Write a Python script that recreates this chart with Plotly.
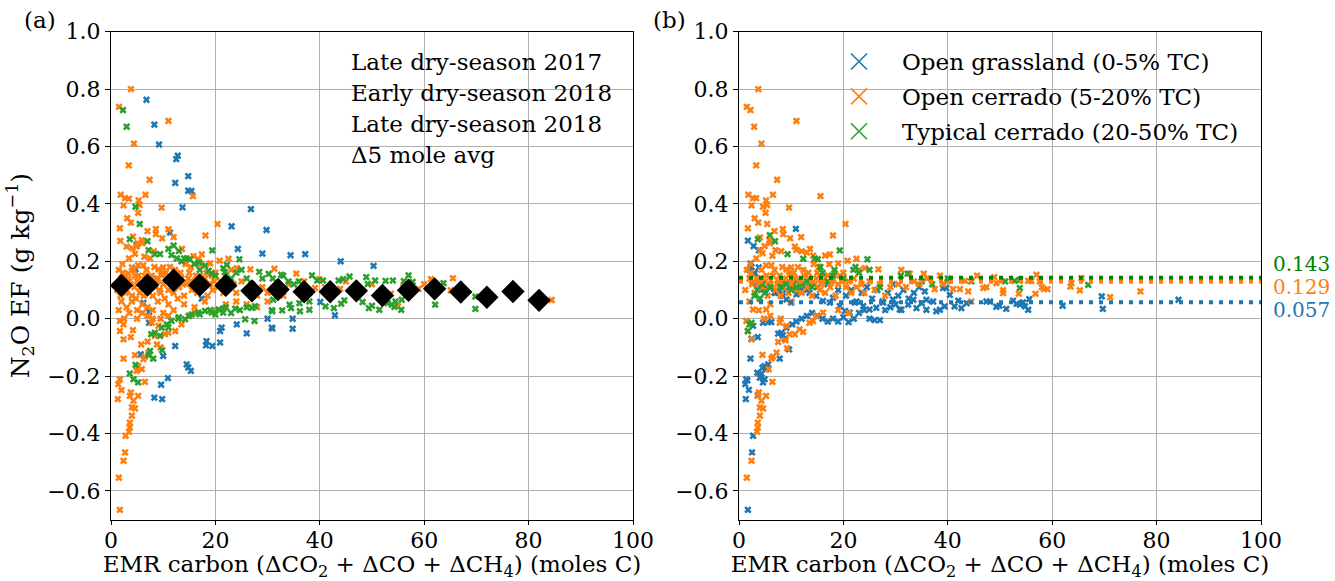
import plotly.graph_objects as go

# ---------------- DATA ----------------
# Panel (a): coloured by campaign
a_late2017 = [
    (6.8,0.763),(8.3,0.676),(9.2,0.607),(12.8,0.568),(12.5,0.556),(14.8,0.497),(12.3,0.473),
    (14.8,0.446),(15.4,0.445),(13.7,0.388),(26.8,0.382),(23.1,0.322),(11.3,0.30),(29.8,0.309),
    (4.9,0.257),(24.3,0.243),(29.0,0.227),(4.7,0.172),(34.4,0.221),(37.2,0.225),(44.0,0.20),
    (50.3,0.184),(8.75,0.139),(6.2,0.055),(7.3,0.023),(17.4,0.07),(40.1,0.058),(42.9,0.012),
    (34.8,0.0),(30.0,0.0),(7.3,-0.014),(34.8,-0.035),(30.9,-0.034),(30.8,-0.031),(20.9,-0.043),
    (21.2,-0.031),(24.1,-0.02),(26.0,-0.051),(18.3,-0.078),(18.2,-0.093),(19.4,-0.095),
    (20.9,-0.083),(5.7,-0.124),(10.0,-0.13),(12.3,-0.095),(10.9,-0.207),(9.6,-0.23),(8.3,-0.275),
    (9.8,-0.28),(14.5,-0.159),(14.8,-0.17),(15.3,-0.182),
]
a_early2018 = [
    (3.83,0.80),(1.53,0.738),(11.0,0.689),(4.4,0.61),(3.4,0.534),(7.4,0.484),(15.7,0.427),
    (1.85,0.432),(2.7,0.42),(3.45,0.418),(5.3,0.412),(5.5,0.396),(6.6,0.432),(2.4,0.395),
    (5.2,0.369),(9.7,0.387),(3.1,0.35),(3.8,0.335),(1.7,0.315),(20.4,0.33),(7.0,0.305),
    (8.6,0.312),(8.6,0.295),(11.0,0.311),(12.0,0.284),(18.1,0.29),(1.8,0.271),(4.2,0.286),
    (5.9,0.274),(6.0,0.263),(5.1,0.263),(9.8,0.28),(3.0,0.251),(4.1,0.245),(4.9,0.251),
    (8.2,0.235),(13.6,0.243),(17.4,0.224),(22.5,0.209),(20.8,0.202),(3.45,0.21),(4.6,0.226),
    (6.4,0.216),(7.5,0.21),(15.8,0.218),(16.7,0.207),(19.0,0.193),(2.2,0.19),(4.0,0.179),
    (5.2,0.186),(6.2,0.186),(9.1,0.172),(10.0,0.179),(9.6,0.152),(26.7,0.172),(24.1,0.176),
    (3.3,0.158),(4.6,0.15),
    (1.5,0.17),(2.0,0.14),(2.5,0.12),(3.0,0.10),(3.5,0.13),(4.0,0.08),(4.5,0.11),(5.0,0.13),
    (5.5,0.09),(6.0,0.12),(6.5,0.15),(7.0,0.10),(7.5,0.13),(8.0,0.08),(8.5,0.11),(9.0,0.14),
    (9.5,0.09),(10.0,0.12),(10.5,0.16),(11.0,0.10),(11.5,0.13),(12.0,0.09),(12.5,0.15),
    (13.0,0.11),(13.5,0.14),(14.0,0.08),(14.5,0.12),(15.0,0.16),(15.5,0.10),(16.0,0.13),
    (16.5,0.09),(17.0,0.15),(17.5,0.11),(18.0,0.14),(18.5,0.08),(19.0,0.12),(19.5,0.10),
    (20.0,0.16),(20.5,0.11),(21.0,0.13),(21.5,0.09),(22.0,0.14),(22.5,0.11),(23.0,0.17),
    (23.5,0.12),(24.0,0.09),(25.0,0.13),(26.0,0.10),(27.0,0.12),(28.0,0.08),(29.0,0.11),
    (30.0,0.09),(31.3,0.174),(35.5,0.157),(39.9,0.138),(39.1,0.107),(43.9,0.104),(53.6,0.087),
    (55.0,0.043),(58.9,0.104),(61.3,0.138),(65.5,0.141),(65.1,0.099),(84.4,0.065),
    (2.0,0.06),(3.0,0.04),(4.0,0.06),(5.0,0.03),(6.0,0.05),(7.0,0.04),(8.0,0.03),(9.0,0.06),
    (10.0,0.02),(11.0,0.05),(12.0,0.03),(14.0,0.05),(16.0,0.04),(18.0,0.06),(20.0,0.03),
    (22.0,0.05),(24.0,0.06),(26.0,0.05),(28.0,0.04),(30.0,0.06),(32.0,0.10),(33.0,0.08),
    (34.0,0.12),(36.0,0.10),(37.0,0.13),(38.0,0.09),(41.0,0.11),(45.0,0.13),(47.0,0.10),
    (50.0,0.12),(52.0,0.10),(56.0,0.11),(60.0,0.12),
    (1.2,0.10),(1.8,0.08),(2.3,0.16),(2.8,0.09),(3.3,0.14),(3.8,0.12),(4.3,0.17),(4.8,0.07),
    (5.3,0.15),(5.8,0.11),(6.3,0.08),(6.8,0.17),(7.3,0.12),(7.8,0.15),(8.3,0.18),(8.8,0.13),
    (9.3,0.10),(9.8,0.16),(10.3,0.07),(10.8,0.14),(11.3,0.18),(11.8,0.12),(12.3,0.17),
    (12.8,0.07),(13.3,0.16),(13.8,0.12),(14.3,0.19),(14.8,0.14),(15.3,0.18),(15.8,0.12),
    (16.3,0.15),(16.8,0.11),(17.3,0.19),(17.8,0.13),(18.3,0.16),(18.8,0.12),(19.3,0.15),
    (19.8,0.13),
    (1.5,0.03),(2.5,0.0),(3.5,0.02),(5.0,0.0),(6.0,0.02),(7.0,0.01),(8.0,0.0),(9.5,0.0),
    (11.0,0.01),(4.2,-0.04),(5.8,-0.09),(7.0,-0.08),(8.8,-0.09),(9.5,-0.10),
    (1.7,-0.008),(2.4,-0.02),(1.7,-0.043),(2.4,-0.072),(3.8,-0.064),(2.4,-0.139),(4.6,-0.127),
    (6.5,-0.132),(7.2,-0.118),(6.2,-0.141),(5.2,-0.165),(5.9,-0.176),(4.9,-0.182),(6.5,-0.22),
    (1.7,-0.211),(1.4,-0.228),(2.0,-0.249),(1.3,-0.28),(3.8,-0.257),(3.6,-0.269),(5.2,-0.269),
    (4.3,-0.286),(4.0,-0.309),(4.6,-0.313),(4.0,-0.338),(3.6,-0.362),(3.6,-0.379),
    (3.45,-0.394),(2.8,-0.408),(2.7,-0.466),(2.4,-0.495),(1.5,-0.554),(1.7,-0.666),
    (7.8,-0.014),(9.1,-0.025),(8.4,-0.06),(10.3,-0.054),(11.0,-0.049),(12.3,-0.043),
    (13.5,-0.02),(14.8,0.009),(16.1,0.021),
]
a_late2018 = [
    (2.3,0.727),(3.0,0.669),(4.7,0.39),(5.5,0.33),(3.6,0.277),(7.0,0.27),(7.2,0.239),
    (8.4,0.225),(9.4,0.225),(11.0,0.243),(12.0,0.255),(19.4,0.238),(24.6,0.207),(11.6,0.222),
    (12.6,0.21),(13.0,0.236),(14.5,0.21),(15.1,0.207),(16.9,0.196),(18.0,0.185),(18.7,0.167),
    (19.3,0.158),(21.5,0.176),(22.2,0.187),(21.8,0.162),(25.0,0.17),(28.4,0.163),(30.2,0.156),
    (13.5,0.20),(14.0,0.21),(16.0,0.19),(17.0,0.17),(20.0,0.15),(22.0,0.15),(23.0,0.14),
    (24.0,0.16),(26.0,0.14),(27.0,0.12),(29.0,0.14),(31.0,0.14),(33.0,0.15),(34.0,0.13),
    (35.0,0.12),(36.0,0.13),
    (32.6,0.153),(38.5,0.151),(39.5,0.133),(40.6,0.133),(43.6,0.133),(44.5,0.138),(45.7,0.147),
    (48.9,0.145),(49.2,0.121),(50.6,0.133),(52.6,0.132),(54.0,0.133),(56.1,0.131),(57.0,0.151),
    (57.8,0.128),(48.2,0.058),(49.4,0.037),(50.0,0.045),(51.4,0.031),(53.0,0.054),(53.8,0.049),
    (54.5,0.06),(55.7,0.066),(55.6,0.031),(54.3,0.041),(62.1,0.049),(69.8,0.077),(69.8,0.034),
    (63.7,0.124),(41.1,0.043),(42.7,0.037),(44.1,0.052),(44.7,0.064),(38.0,0.031),(36.2,0.026),
    (34.5,0.037),(32.8,0.029),(30.9,0.026),(31.1,0.066),(36.1,0.054),(38.0,0.06),(34.2,0.049),
    (7.7,-0.054),(8.4,-0.049),(9.7,-0.031),(10.7,-0.02),(11.6,-0.008),(12.9,0.0),(14.2,-0.002),
    (15.5,0.015),(16.7,0.021),(18.0,0.027),(19.3,0.021),(20.6,0.032),(21.5,0.021),(21.5,0.035),
    (23.8,0.035),(24.7,0.03),(27.0,0.038),(27.6,0.044),(25.7,-0.002),(27.5,-0.008),(30.8,0.03),
    (7.5,-0.112),(8.1,-0.139),(9.8,-0.11),(9.4,-0.06),(4.7,-0.161),(3.6,-0.191),(4.3,-0.211),
    (5.2,-0.222),(7.2,-0.127),(11.0,-0.03),(13.0,0.005),(15.0,0.01),(17.0,0.015),(19.0,0.03),
    (20.0,0.015),(22.0,0.04),(23.0,0.02),(26.0,0.04),
]
avg_x = [2, 7, 12, 17, 22, 27, 32, 37, 42, 47, 52, 57, 62, 67, 72, 77, 82]
avg_y = [0.116, 0.117, 0.134, 0.117, 0.116, 0.097, 0.102, 0.094, 0.094, 0.097, 0.081,
         0.099, 0.104, 0.093, 0.075, 0.095, 0.064]

# Panel (b): coloured by vegetation type
b_grassland = [
    (10.9,0.313),(1.7,0.272),(2.8,0.253),(3.8,0.238),(2.2,0.193),(2.0,0.17),(3.0,0.158),
    (3.8,0.179),(2.4,0.18),(4.2,0.14),(3.0,0.16),(2.7,0.125),
    (3.6,0.119),(4.6,0.102),(5.9,0.107),(6.8,0.09),(7.8,0.095),(8.4,0.079),(9.1,0.067),
    (10.0,0.056),(11.0,0.085),(11.9,0.102),(12.9,0.113),(13.5,0.09),(14.8,0.079),(16.1,0.062),
    (17.4,0.056),(18.0,0.073),(19.3,0.044),(20.3,0.027),(21.2,0.021),(22.2,0.056),(23.8,0.044),
    (25.0,0.032),(26.3,0.038),(27.6,0.056),(29.5,0.067),(30.8,0.032),
    (4.0,0.12),(5.0,0.10),(6.0,0.11),(7.0,0.09),(8.0,0.12),(9.0,0.10),(10.0,0.11),(11.0,0.13),
    (12.0,0.12),(13.0,0.10),(15.0,0.11),(17.0,0.12),(19.0,0.10),
    (20.5,0.08),(21.5,0.10),(22.5,0.06),(23.5,0.09),(24.5,0.11),(25.5,0.07),(26.5,0.10),
    (27.5,0.06),(28.5,0.09),(29.5,0.12),(30.5,0.08),(31.5,0.10),(32.5,0.07),(33.5,0.09),
    (34.5,0.11),
    (2.4,-0.07),(2.2,-0.139),(3.6,-0.064),(1.4,-0.211),(1.6,-0.215),(1.2,-0.228),(1.9,-0.248),
    (1.3,-0.28),(3.6,-0.267),(2.7,-0.408),(2.5,-0.466),(1.7,-0.666),(3.5,-0.188),(4.0,-0.205),
    (4.6,-0.222),(4.9,-0.211),(4.3,-0.191),(5.2,-0.176),(4.9,-0.165),(5.6,-0.159),(4.5,-0.171),
    (7.8,-0.139),(7.5,-0.052),(8.1,-0.049),(9.1,-0.031),(9.6,-0.107),(8.4,-0.058),(4.6,-0.014),
    (5.6,-0.012),(6.2,-0.012),(2.7,-0.025),(8.8,-0.07),(10.2,-0.02),(11.0,-0.01),(12.0,0.0),
    (13.0,0.01),(14.0,0.02),(15.0,0.01),(16.0,0.0),(17.0,-0.01),(18.0,0.0),(19.0,-0.01),
    (20.0,0.005),(21.0,-0.012),(22.0,0.0),(23.0,0.02),(24.0,0.03),(25.0,0.0),(26.0,-0.005),
    (27.0,-0.005),(28.0,0.03),(29.0,0.04),(30.0,0.05),
    (31.1,0.031),(32.4,0.049),(33.4,0.066),(34.0,0.037),(35.0,0.054),(35.6,0.095),(35.9,0.066),
    (35.9,0.031),(37.2,0.06),(37.8,0.026),(38.5,0.031),(39.1,0.107),(39.7,0.107),(40.4,0.083),
    (39.4,0.043),(41.3,0.043),(42.0,0.063),(42.6,0.037),(43.6,0.054),(47.4,0.06),(48.1,0.06),
    (49.3,0.041),(49.9,0.045),(51.2,0.034),(52.5,0.063),(53.2,0.052),(53.8,0.049),(54.4,0.057),
    (54.8,0.043),(55.4,0.031),(55.6,0.068),(62.0,0.045),(69.5,0.078),(69.7,0.034),(84.2,0.066),
]
b_open_cerrado = [
    (3.7,0.80),(1.5,0.738),(2.2,0.727),(2.9,0.669),(11.0,0.689),(4.3,0.61),(3.3,0.534),
    (7.3,0.484),(15.6,0.427),(1.8,0.432),(2.7,0.42),(3.3,0.42),(5.2,0.412),(5.4,0.396),
    (6.5,0.432),(2.4,0.395),(4.6,0.39),(5.1,0.369),(9.6,0.387),(3.0,0.35),(3.7,0.335),
    (5.4,0.33),(1.7,0.315),(20.4,0.33),(6.8,0.305),(8.4,0.312),(8.5,0.295),(9.8,0.28),
    (11.9,0.284),(18.0,0.29),(4.0,0.283),(5.8,0.274),(5.9,0.263),(4.9,0.253),(4.1,0.238),
    (3.3,0.21),(4.5,0.228),(6.4,0.219),(7.0,0.239),(8.1,0.235),(10.7,0.251),(11.0,0.24),
    (12.0,0.235),(13.0,0.23),(13.6,0.243),(14.2,0.22),(16.5,0.22),(17.4,0.224),(19.0,0.193),
    (20.8,0.202),(22.5,0.209),(24.1,0.176),(26.7,0.172),(2.2,0.19),(5.2,0.186),(6.2,0.186),
    (9.1,0.172),(10.0,0.179),(9.6,0.152),
    (1.5,0.17),(2.0,0.14),(2.5,0.12),(3.5,0.13),(4.5,0.11),(5.0,0.13),(6.0,0.12),(6.5,0.15),
    (7.0,0.10),(7.5,0.13),(8.5,0.11),(9.0,0.14),(10.0,0.12),(10.5,0.16),(11.0,0.10),
    (11.5,0.13),(12.5,0.15),(13.0,0.11),(13.5,0.14),(14.5,0.12),(15.0,0.16),(15.5,0.10),
    (16.0,0.13),(17.0,0.15),(17.5,0.11),(18.0,0.14),(19.0,0.12),(20.0,0.16),(20.5,0.11),
    (21.0,0.13),(22.0,0.14),(22.5,0.11),(23.0,0.17),(23.5,0.12),(25.0,0.13),(26.0,0.10),
    (27.0,0.12),(29.0,0.11),(1.2,0.10),(2.3,0.16),(3.3,0.14),(3.8,0.12),(4.3,0.17),(5.3,0.15),
    (5.8,0.11),(6.8,0.17),(7.3,0.12),(7.8,0.15),(8.3,0.18),(8.8,0.13),(9.8,0.16),(10.8,0.14),
    (11.3,0.18),(11.8,0.12),(12.3,0.17),(13.3,0.16),(13.8,0.12),(14.3,0.19),(14.8,0.14),
    (15.3,0.18),(15.8,0.12),(16.3,0.15),(17.3,0.19),(17.8,0.13),(18.3,0.16),(19.3,0.15),
    (19.8,0.13),(3.0,0.09),(5.5,0.08),(8.0,0.08),(9.5,0.09),(12.0,0.09),(14.0,0.08),
    (16.5,0.09),(18.5,0.08),(21.5,0.09),(24.0,0.09),(28.0,0.08),(2.0,0.06),(4.0,0.07),
    (6.0,0.05),(10.0,0.06),
    (31.1,0.17),(32.7,0.157),(35.4,0.157),(38.5,0.15),(37.5,0.103),(41.0,0.103),(42.3,0.103),
    (43.9,0.095),(43.3,0.132),(44.5,0.06),(45.6,0.15),(46.8,0.107),(47.4,0.11),(48.9,0.145),
    (49.3,0.124),(50.6,0.099),(50.6,0.089),(53.6,0.087),(55.4,0.132),(56.0,0.132),(56.8,0.087),
    (57.0,0.153),(57.6,0.13),(58.0,0.11),(58.4,0.103),(59.1,0.103),(63.5,0.112),(63.7,0.124),
    (65.3,0.099),(65.6,0.141),(71.1,0.075),(76.9,0.095),(30.5,0.12),(32.0,0.11),(33.5,0.13),
    (34.5,0.12),(36.0,0.14),(39.0,0.12),(40.0,0.13),
    (1.5,-0.554),(2.4,-0.495),(3.45,-0.394),(3.6,-0.379),(3.6,-0.362),(4.0,-0.338),
    (4.0,-0.309),(4.6,-0.313),(4.3,-0.286),(5.2,-0.269),(3.6,-0.269),(3.8,-0.257),(6.4,-0.22),
    (5.7,-0.176),(4.5,-0.126),(6.2,-0.139),(6.5,-0.132),(7.2,-0.118),(7.5,-0.081),(8.9,-0.075),
    (9.2,-0.103),(9.7,-0.054),(10.7,-0.054),(12.3,-0.046),(11.6,-0.037),(13.5,-0.014),
    (14.2,-0.008),(1.4,-0.008),(1.7,-0.043),(2.4,-0.072),(7.8,-0.014),(9.1,-0.025),
    (16.1,0.021),(14.8,0.009),(2.7,0.032),(3.8,0.029),(5.2,0.032),(4.8,0.0),(6.0,0.01),
    (8.0,0.0),(19.0,0.03),(21.0,0.02),
]
b_typical_cerrado = [
    (3.6,0.277),(5.9,0.291),(6.9,0.27),(9.3,0.225),(19.3,0.238),(24.6,0.207),(12.3,0.209),
    (14.5,0.21),(15.1,0.207),(15.6,0.18),(18.3,0.17),(21.9,0.17),(22.3,0.18),(2.4,-0.014),
    (1.7,-0.043),(2.0,-0.02),(3.0,0.08),(3.5,0.10),(4.0,0.07),(4.5,0.12),(5.0,0.09),(6.0,0.11),
    (8.0,0.11),(9.0,0.12),(10.0,0.10),(11.0,0.11),(12.0,0.12),(13.0,0.13),(14.0,0.11),
    (16.0,0.16),(17.0,0.13),(18.0,0.15),(20.0,0.14),(23.0,0.16),(25.0,0.17),(27.0,0.11),
    (31.0,0.15),(32.3,0.157),(35.0,0.13),(37.0,0.12),(40.0,0.14),(44.5,0.13),(51.0,0.13),
    (52.8,0.132),(53.8,0.136),(53.8,0.107),(66.9,0.118),
]
b_means = [0.057, 0.129, 0.143]          # grassland, open cerrado, typical cerrado
b_mean_labels = ["0.057", "0.129", "0.143"]

a_names = ["Late dry-season 2017", "Early dry-season 2018", "Late dry-season 2018"]
b_names = ["Open grassland (0-5% TC)", "Open cerrado (5-20% TC)", "Typical cerrado (20-50% TC)"]

# ---------------- STYLE ----------------
BLUE, ORANGE, GREEN = "#1f77b4", "#ff7f0e", "#2ca02c"
LINE_COLS = ["#1f77b4", "#ff7f0e", "#008000"]
FONT = "DejaVu Serif"
W, H = 1335, 581
TICK_FS, TXT_FS = 22, 23

def xs(p): return [q[0] for q in p]
def ys(p): return [q[1] for q in p]

fig = go.Figure()
mk = dict(symbol="x", size=6.5, line=dict(width=0))

for pts, col, nm in zip([a_late2017, a_early2018, a_late2018], [BLUE, ORANGE, GREEN], a_names):
    fig.add_trace(go.Scatter(x=xs(pts), y=ys(pts), mode="markers", name=nm,
                             marker=dict(mk, color=col), showlegend=False,
                             xaxis="x", yaxis="y"))
fig.add_trace(go.Scatter(x=avg_x, y=avg_y, mode="markers", name="\u03945 mole avg",
                         marker=dict(symbol="diamond", size=18, color="black"),
                         showlegend=False, xaxis="x", yaxis="y"))

for pts, col, nm in zip([b_grassland, b_open_cerrado, b_typical_cerrado], [BLUE, ORANGE, GREEN], b_names):
    fig.add_trace(go.Scatter(x=xs(pts), y=ys(pts), mode="markers", name=nm,
                             marker=dict(mk, color=col), showlegend=False,
                             xaxis="x2", yaxis="y2"))
# legend entries for panel (b)
for col, nm in zip([BLUE, ORANGE, GREEN], b_names):
    fig.add_trace(go.Scatter(x=[None], y=[None], mode="markers", name=nm, legendgroup=nm,
                             marker=dict(symbol="x-thin-open", size=16, color=col,
                                         line=dict(width=1.6, color=col)),
                             xaxis="x2", yaxis="y2"))
# mean lines
for m, col in zip(b_means, LINE_COLS):
    fig.add_trace(go.Scatter(x=[0, 100], y=[m, m], mode="lines", showlegend=False,
                             line=dict(color=col, width=4, dash="4px,6px"),
                             xaxis="x2", yaxis="y2"))

ax_common = dict(range=[0, 100], tickvals=[0, 20, 40, 60, 80, 100], showgrid=True,
                 gridcolor="#b0b0b0", gridwidth=1, showline=True, linecolor="black",
                 linewidth=1, mirror=True, ticks="outside", ticklen=4, tickcolor="black",
                 ticklabelstandoff=-3,
                 zeroline=False, tickfont=dict(family=FONT, size=TICK_FS, color="black"),
                 title=dict(text="EMR carbon (\u0394CO<sub>2</sub> + \u0394CO + \u0394CH<sub>4</sub>) (moles C)",
                            font=dict(family=FONT, size=TXT_FS, color="black"), standoff=8))
ay_common = dict(range=[-0.7, 1.0], tickvals=[-0.6, -0.4, -0.2, 0.0, 0.2, 0.4, 0.6, 0.8, 1.0],
                 ticktext=["\u22120.6", "\u22120.4", "\u22120.2", "0.0", "0.2", "0.4", "0.6", "0.8", "1.0"],
                 showgrid=True, gridcolor="#b0b0b0", gridwidth=1, showline=True,
                 linecolor="black", linewidth=1, mirror=True, ticks="outside", ticklen=5,
                 tickcolor="black", zeroline=False,
                 tickfont=dict(family=FONT, size=TICK_FS, color="black"))

ydom = [1 - 519.6 / H, 1 - 31.7 / H]
fig.update_layout(
    width=W, height=H, margin=dict(l=0, r=0, t=0, b=0, autoexpand=False),
    paper_bgcolor="white", plot_bgcolor="white",
    font=dict(family=FONT, size=TICK_FS, color="black"),
    xaxis=dict(ax_common, domain=[111 / W, 633 / W], anchor="y"),
    yaxis=dict(ay_common, domain=ydom, anchor="x",
               title=dict(text="N<sub>2</sub>O EF (g kg<sup>\u22121</sup>)",
                          font=dict(family=FONT, size=25, color="black"), standoff=10)),
    xaxis2=dict(ax_common, domain=[739 / W, 1261 / W], anchor="y2"),
    yaxis2=dict(ay_common, domain=ydom, anchor="x2"),
    legend=dict(x=816 / W, y=1 - 40 / H, xanchor="left", yanchor="top",
                bgcolor="rgba(0,0,0,0)", font=dict(family=FONT, size=TXT_FS, color="black"),
                tracegroupgap=2, itemwidth=76),
    showlegend=True,
)

ann = []
for i, t in enumerate(a_names + ["\u03945 mole avg"]):
    ann.append(dict(text=t, x=349 / W, y=1 - (62 + 31 * i) / H, xref="paper", yref="paper",
                    xanchor="left", yanchor="middle", showarrow=False,
                    font=dict(family=FONT, size=TXT_FS, color="black")))
ann.append(dict(text="(a)", x=40 / W, y=1 - 20 / H, xref="paper", yref="paper",
                xanchor="center", yanchor="middle",
                showarrow=False, font=dict(family=FONT, size=TXT_FS, color="black")))
ann.append(dict(text="(b)", x=669 / W, y=1 - 20 / H, xref="paper", yref="paper",
                xanchor="center", yanchor="middle",
                showarrow=False, font=dict(family=FONT, size=TXT_FS, color="black")))
for m, lab, col, sh in zip(b_means, b_mean_labels, LINE_COLS, [-8, -5, 14]):
    ann.append(dict(text=lab, x=1271 / W, y=m, xref="paper", yref="y2", yshift=sh,
                    xanchor="left", yanchor="middle", showarrow=False,
                    font=dict(family=FONT, size=20, color=col)))
fig.update_layout(annotations=ann)

fig.write_html("out.html", config={"displayModeBar": False},
               post_script="document.body.style.margin='0px';")
